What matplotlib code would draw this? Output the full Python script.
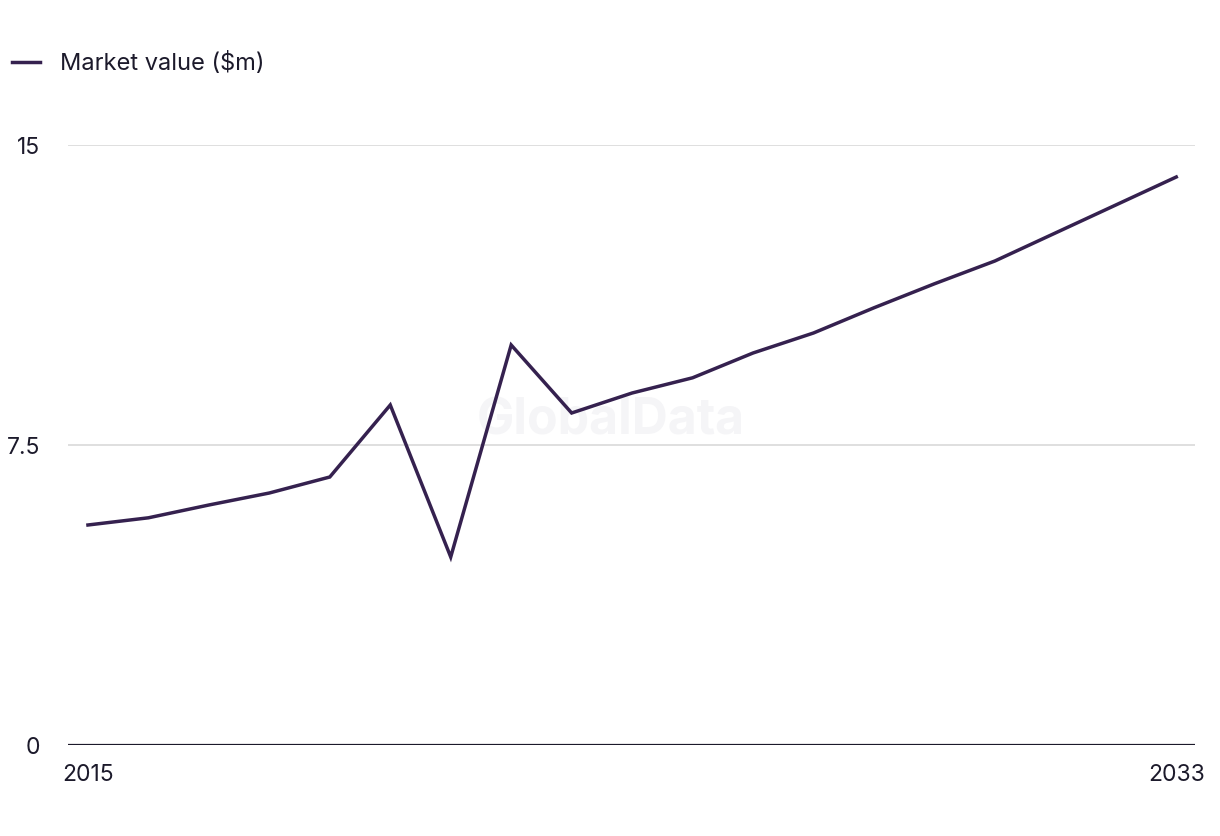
import matplotlib.pyplot as plt
import numpy as np

years = np.arange(2015, 2034)
market_value = [5.5, 5.68, 6.0, 6.3, 6.7, 8.5, 4.7, 10.0, 8.3, 8.8, 9.18,
                9.8, 10.3, 10.93, 11.53, 12.1, 12.8, 13.5, 14.2]
yticks = [0, 7.5, 15]
ytick_labels = ['0', '7.5', '15']
xticks = [2015, 2033]

line_color = '#35214f'
text_color = '#1c1a2b'

plt.rcParams['font.family'] = ['Inter', 'DejaVu Sans']

fig = plt.figure(figsize=(12.2, 8.36), dpi=100)
ax = fig.add_axes([68/1220, 1-745/836, (1195-68)/1220, 600/836])

ax.plot(years, market_value, color=line_color, lw=2.5, solid_joinstyle='miter',
        label='Market value ($m)')

ax.set_xlim(2014.67, 2033.31)
ax.set_ylim(0, 15)
ax.set_yticks(yticks)
ax.set_yticklabels(ytick_labels)
ax.set_xticks(xticks)
ax.set_xticklabels([str(x) for x in xticks])

for y in yticks[1:]:
    ax.axhline(y, color='#d9d9d9', lw=1.2, zorder=0)
ax.axhline(0, color=text_color, lw=1.6, zorder=1)

for s in ax.spines.values():
    s.set_visible(False)
ax.tick_params(axis='y', length=0, pad=20, labelsize=16.5, labelcolor=text_color)
ax.tick_params(axis='x', length=0, pad=14, labelsize=16.5, labelcolor=text_color)

ax.text(0.482, 0.54, 'GlobalData', transform=ax.transAxes, ha='center', va='center',
        fontsize=36, fontweight='bold', color='#f5f5f7', zorder=0)

# legend at top left
fig.legend(loc='upper left', bbox_to_anchor=(0.002, 0.9486), frameon=False,
           borderaxespad=0, borderpad=0.4,
           fontsize=17, handlelength=1.2, handletextpad=0.85, labelcolor=text_color)

fig.savefig('out.png', dpi=100)
